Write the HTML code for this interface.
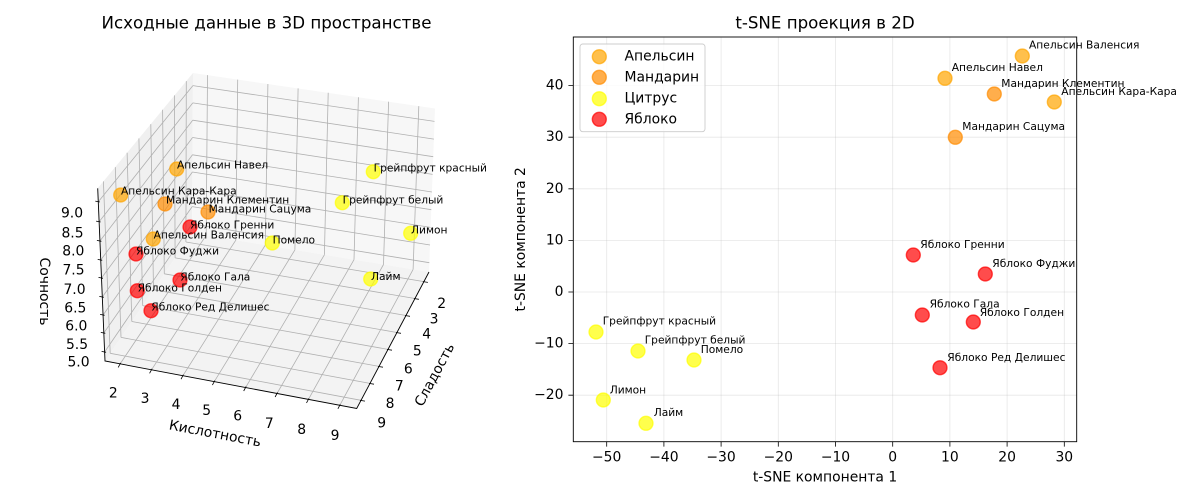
<!DOCTYPE html>
<html>
<head>
<meta charset="utf-8">
<style>
html,body{margin:0;padding:0;background:#fff;}
svg{display:block;}
text{font-family:"DejaVu Sans","Liberation Sans",sans-serif;fill:#000;}
</style>
</head>
<body>
<svg width="1200" height="500" viewBox="0 0 1200 500" xmlns="http://www.w3.org/2000/svg">
<rect x="0" y="0" width="1200" height="500" fill="#fff"/>

<!-- ============ LEFT: 3D plot ============ -->
<text x="266.5" y="23" font-size="16.67" text-anchor="middle" dominant-baseline="central">Исходные данные в 3D пространстве</text>

<!-- panes -->
<polygon points="193,73 97.7,188.3 105,361 192,233" fill="#f0f0f0"/>
<polygon points="193,73 435,108.5 429,272 192,233" fill="#f7f7f7"/>
<polygon points="192,233 429,272 356.7,408.5 105,361" fill="#f3f3f3"/>

<!-- grid -->
<g stroke="#b0b0b0" stroke-width="0.8" fill="none">
<path d="M207.5 75.1 L206.2 235.3 M237.7 79.6 L235.8 240.2 M267.9 84.0 L265.3 245.1 M298.1 88.4 L294.9 249.9 M328.2 92.8 L324.4 254.8 M358.4 97.3 L354.0 259.7 M388.6 101.7 L383.5 264.5 M418.8 106.1 L413.1 269.4"/>
<path d="M192.9 85.6 L434.5 121.4 M192.8 102.9 L433.9 139.1 M192.7 120.2 L433.2 156.7 M192.6 137.5 L432.6 174.4 M192.5 154.8 L431.9 192.0 M192.4 172.0 L431.3 209.7 M192.3 189.3 L430.6 227.4 M192.2 206.6 L430.0 245.0 M192.1 223.9 L429.3 262.7"/>
<path d="M186.3 81.1 L185.9 242.0 M174.5 95.4 L175.1 257.9 M162.6 109.7 L164.3 273.8 M150.8 124.1 L153.5 289.7 M138.9 138.4 L142.7 305.6 M127.1 152.7 L131.8 321.5 M115.3 167.1 L121.0 337.4 M103.4 181.4 L110.2 353.3"/>
<path d="M192.9 85.6 L98.3 201.7 M192.8 102.9 L99.1 221.7 M192.7 120.2 L99.9 241 M192.6 137.5 L100.7 260 M192.5 154.8 L101.5 278 M192.4 172.0 L102.3 297 M192.3 189.3 L103.1 315 M192.2 206.6 L103.8 333 M192.1 223.9 L104.6 352"/>
<path d="M206.2 235.3 L120.1 363.9 M235.8 240.2 L151.5 369.8 M265.3 245.1 L182.9 375.7 M294.9 249.9 L214.3 381.6 M324.4 254.8 L245.6 387.5 M354.0 259.7 L277.0 393.5 M383.5 264.5 L308.4 399.4 M413.1 269.4 L339.8 405.3"/>
<path d="M185.9 242.0 L423.9 281.6 M175.1 257.9 L414.9 298.5 M164.3 273.8 L406.0 315.5 M153.5 289.7 L397.0 332.5 M142.7 305.6 L388.0 349.4 M131.8 321.5 L379.0 366.4 M121.0 337.4 L370.0 383.4 M110.2 353.3 L361.0 400.3"/>
</g>

<!-- axis lines -->
<path d="M97.7 188.3 L105 361 L356.7 408.5 L429 272" stroke="#000" stroke-width="0.9" fill="none"/>
<!-- ticks -->
<g stroke="#000" stroke-width="0.8">
<path d="M99.8 202 L95.3 201.1 M100.6 222 L96.1 221.1 M101.4 241.3 L96.9 240.4 M102.2 260.3 L97.7 259.4 M103 278.3 L98.5 277.4 M103.8 297.3 L99.3 296.4 M104.6 315.3 L100.1 314.4 M105.3 333.3 L100.8 332.4 M106.1 352.3 L101.6 351.4"/>
<path d="M120.6 362.9 L118.2 367.4 M152 368.8 L149.6 373.3 M183.4 374.7 L181 379.2 M214.8 380.6 L212.4 385.1 M246.1 386.5 L243.7 391 M277.5 392.5 L275.1 397 M308.9 398.4 L306.5 402.9 M340.3 404.3 L337.9 408.8"/>
<path d="M422.9 281.6 L427.9 282.4 M413.9 298.5 L418.9 299.3 M405 315.5 L410 316.3 M396 332.5 L401 333.3 M387 349.4 L392 350.2 M378 366.4 L383 367.2 M369 383.4 L374 384.2 M360 400.3 L365 401.1"/>
</g>

<!-- z tick labels -->
<g font-size="13.9" text-anchor="middle" dominant-baseline="central">
<text x="72" y="213.3">9.0</text>
<text x="72.5" y="233.3">8.5</text>
<text x="73.3" y="251.7">8.0</text>
<text x="73.5" y="270.7">7.5</text>
<text x="74.5" y="290">7.0</text>
<text x="75.3" y="308.3">6.5</text>
<text x="76.3" y="326.7">6.0</text>
<text x="77" y="345">5.5</text>
<text x="78.5" y="362.7">5.0</text>
<!-- acidity labels -->
<text x="113.3" y="393.3">2</text>
<text x="145" y="399">3</text>
<text x="176" y="405">4</text>
<text x="206.7" y="411">5</text>
<text x="237.7" y="416.7">6</text>
<text x="269.3" y="424">7</text>
<text x="301.7" y="430">8</text>
<text x="335" y="436">9</text>
<!-- sweetness labels -->
<text x="441.7" y="304">2</text>
<text x="434" y="319.3">3</text>
<text x="426.7" y="334.3">4</text>
<text x="417.3" y="351.7">5</text>
<text x="408.3" y="369.3">6</text>
<text x="399.3" y="386.7">7</text>
<text x="390" y="404">8</text>
<text x="381.7" y="423.3">9</text>
</g>
<g font-size="13.9" text-anchor="middle" dominant-baseline="central">
<text transform="translate(44,291.5) rotate(90)">Сочность</text>
<text transform="translate(215,434) rotate(10.7)">Кислотность</text>
<text transform="translate(435,375) rotate(-62)">Сладость</text>
</g>

<!-- 3D markers -->
<g stroke-width="1.39" fill-opacity="0.7" stroke-opacity="0.7">
<g fill="#ffa500" stroke="#ffa500">
<circle cx="176.7" cy="169" r="6.94"/>
<circle cx="120.7" cy="195" r="6.94"/>
<circle cx="153.3" cy="239" r="6.94"/>
</g>
<g fill="#ff8c00" stroke="#ff8c00">
<circle cx="165" cy="204" r="6.94"/>
<circle cx="208" cy="212" r="6.94"/>
</g>
<g fill="#ffff00" stroke="#ffff00">
<circle cx="373.3" cy="171.7" r="6.94"/>
<circle cx="342.3" cy="202.7" r="6.94"/>
<circle cx="272.3" cy="243" r="6.94"/>
<circle cx="410.7" cy="233.3" r="6.94"/>
<circle cx="370.7" cy="279" r="6.94"/>
</g>
<g fill="#ff0000" stroke="#ff0000">
<circle cx="190" cy="227" r="6.94"/>
<circle cx="136" cy="254" r="6.94"/>
<circle cx="180" cy="280" r="6.94"/>
<circle cx="137.3" cy="290.7" r="6.94"/>
<circle cx="151" cy="310.7" r="6.94"/>
</g>
</g>
<g font-size="10.67" dominant-baseline="central">
<text x="177" y="165">Апельсин Навел</text>
<text x="121" y="191">Апельсин Кара-Кара</text>
<text x="166" y="200">Мандарин Клементин</text>
<text x="208.6" y="209">Мандарин Сацума</text>
<text x="190" y="225">Яблоко Гренни</text>
<text x="153.6" y="235">Апельсин Валенсия</text>
<text x="272.6" y="240">Помело</text>
<text x="136" y="251">Яблоко Фуджи</text>
<text x="180.3" y="277">Яблоко Гала</text>
<text x="137.6" y="288">Яблоко Голден</text>
<text x="151.3" y="307">Яблоко Ред Делишес</text>
<text x="373.6" y="168">Грейпфрут красный</text>
<text x="342.6" y="200">Грейпфрут белый</text>
<text x="411" y="230">Лимон</text>
<text x="371" y="276.7">Лайм</text>
</g>

<!-- ============ RIGHT: t-SNE ============ -->
<text x="825" y="23" font-size="16.67" text-anchor="middle" dominant-baseline="central">t-SNE проекция в 2D</text>

<g stroke="#b0b0b0" stroke-opacity="0.3" stroke-width="0.8">
<path d="M606.7 37 V441.7 M663.9 37 V441.7 M721.1 37 V441.7 M778.3 37 V441.7 M835.5 37 V441.7 M892.7 37 V441.7 M949.9 37 V441.7 M1007.1 37 V441.7 M1064.3 37 V441.7"/>
<path d="M573.3 85.6 H1076.7 M573.3 137.2 H1076.7 M573.3 188.8 H1076.7 M573.3 240.4 H1076.7 M573.3 292 H1076.7 M573.3 343.6 H1076.7 M573.3 395.2 H1076.7"/>
</g>

<g stroke-width="1.39" fill-opacity="0.7" stroke-opacity="0.7">
<g fill="#ffa500" stroke="#ffa500">
<circle cx="1022.3" cy="56" r="6.94"/>
<circle cx="945" cy="78.3" r="6.94"/>
<circle cx="1054.3" cy="102" r="6.94"/>
</g>
<g fill="#ff8c00" stroke="#ff8c00">
<circle cx="994.3" cy="94" r="6.94"/>
<circle cx="955.3" cy="137.3" r="6.94"/>
</g>
<g fill="#ffff00" stroke="#ffff00">
<circle cx="596" cy="332" r="6.94"/>
<circle cx="638" cy="351" r="6.94"/>
<circle cx="694" cy="360" r="6.94"/>
<circle cx="603.3" cy="400" r="6.94"/>
<circle cx="646" cy="423.3" r="6.94"/>
</g>
<g fill="#ff0000" stroke="#ff0000">
<circle cx="913.3" cy="255" r="6.94"/>
<circle cx="985.3" cy="274" r="6.94"/>
<circle cx="922.3" cy="315" r="6.94"/>
<circle cx="973.3" cy="322" r="6.94"/>
<circle cx="940" cy="367.7" r="6.94"/>
</g>
</g>

<g font-size="10.67" dominant-baseline="central">
<text x="1029" y="45">Апельсин Валенсия</text>
<text x="951.7" y="67.3">Апельсин Навел</text>
<text x="1001.3" y="83.3">Мандарин Клементин</text>
<text x="1061.3" y="91.7">Апельсин Кара-Кара</text>
<text x="962.3" y="126.7">Мандарин Сацума</text>
<text x="920.3" y="244.5">Яблоко Гренни</text>
<text x="992.3" y="263.3">Яблоко Фуджи</text>
<text x="929.6" y="304">Яблоко Гала</text>
<text x="979.7" y="312.3">Яблоко Голден</text>
<text x="947.3" y="357.3">Яблоко Ред Делишес</text>
<text x="602.7" y="321">Грейпфрут красный</text>
<text x="644.7" y="340">Грейпфрут белый</text>
<text x="700.7" y="349.5">Помело</text>
<text x="609.7" y="390">Лимон</text>
<text x="653.7" y="412.7">Лайм</text>
</g>

<!-- spines -->
<rect x="573.3" y="37" width="503.4" height="404.7" fill="none" stroke="#000" stroke-width="0.9"/>
<!-- ticks -->
<g stroke="#000" stroke-width="0.8">
<path d="M606.7 441.7 V446.6 M663.9 441.7 V446.6 M721.1 441.7 V446.6 M778.3 441.7 V446.6 M835.5 441.7 V446.6 M892.7 441.7 V446.6 M949.9 441.7 V446.6 M1007.1 441.7 V446.6 M1064.3 441.7 V446.6"/>
<path d="M573.3 85.6 H568.4 M573.3 137.2 H568.4 M573.3 188.8 H568.4 M573.3 240.4 H568.4 M573.3 292 H568.4 M573.3 343.6 H568.4 M573.3 395.2 H568.4"/>
</g>
<g font-size="13.9" text-anchor="middle" dominant-baseline="central">
<text x="606.7" y="457.5">−50</text>
<text x="663.9" y="457.5">−40</text>
<text x="721.1" y="457.5">−30</text>
<text x="778.3" y="457.5">−20</text>
<text x="835.5" y="457.5">−10</text>
<text x="892.7" y="457.5">0</text>
<text x="949.9" y="457.5">10</text>
<text x="1007.1" y="457.5">20</text>
<text x="1064.3" y="457.5">30</text>
</g>
<g font-size="13.9" text-anchor="end" dominant-baseline="central">
<text x="563.5" y="85.6">40</text>
<text x="563.5" y="137.2">30</text>
<text x="563.5" y="188.8">20</text>
<text x="563.5" y="240.4">10</text>
<text x="563.5" y="292">0</text>
<text x="563.5" y="343.6">−10</text>
<text x="563.5" y="395.2">−20</text>
</g>
<text x="825" y="477.5" font-size="13.9" text-anchor="middle" dominant-baseline="central">t-SNE компонента 1</text>
<text transform="translate(521,239.3) rotate(-90)" font-size="13.9" text-anchor="middle" dominant-baseline="central">t-SNE компонента 2</text>

<!-- legend -->
<rect x="580" y="44" width="125" height="87.7" rx="2.8" ry="2.8" fill="#fff" fill-opacity="0.8" stroke="#cccccc" stroke-width="0.9"/>
<g stroke-width="1.39" fill-opacity="0.7" stroke-opacity="0.7">
<circle cx="599.3" cy="56.7" r="6.94" fill="#ffa500" stroke="#ffa500"/>
<circle cx="599.3" cy="77.3" r="6.94" fill="#ff8c00" stroke="#ff8c00"/>
<circle cx="599.3" cy="98.7" r="6.94" fill="#ffff00" stroke="#ffff00"/>
<circle cx="599.3" cy="119.3" r="6.94" fill="#ff0000" stroke="#ff0000"/>
</g>
<g font-size="13.9" dominant-baseline="central">
<text x="624.5" y="56.5">Апельсин</text>
<text x="624.5" y="77.3">Мандарин</text>
<text x="624.5" y="98.5">Цитрус</text>
<text x="624.5" y="119.3">Яблоко</text>
</g>
</svg>
</body>
</html>
